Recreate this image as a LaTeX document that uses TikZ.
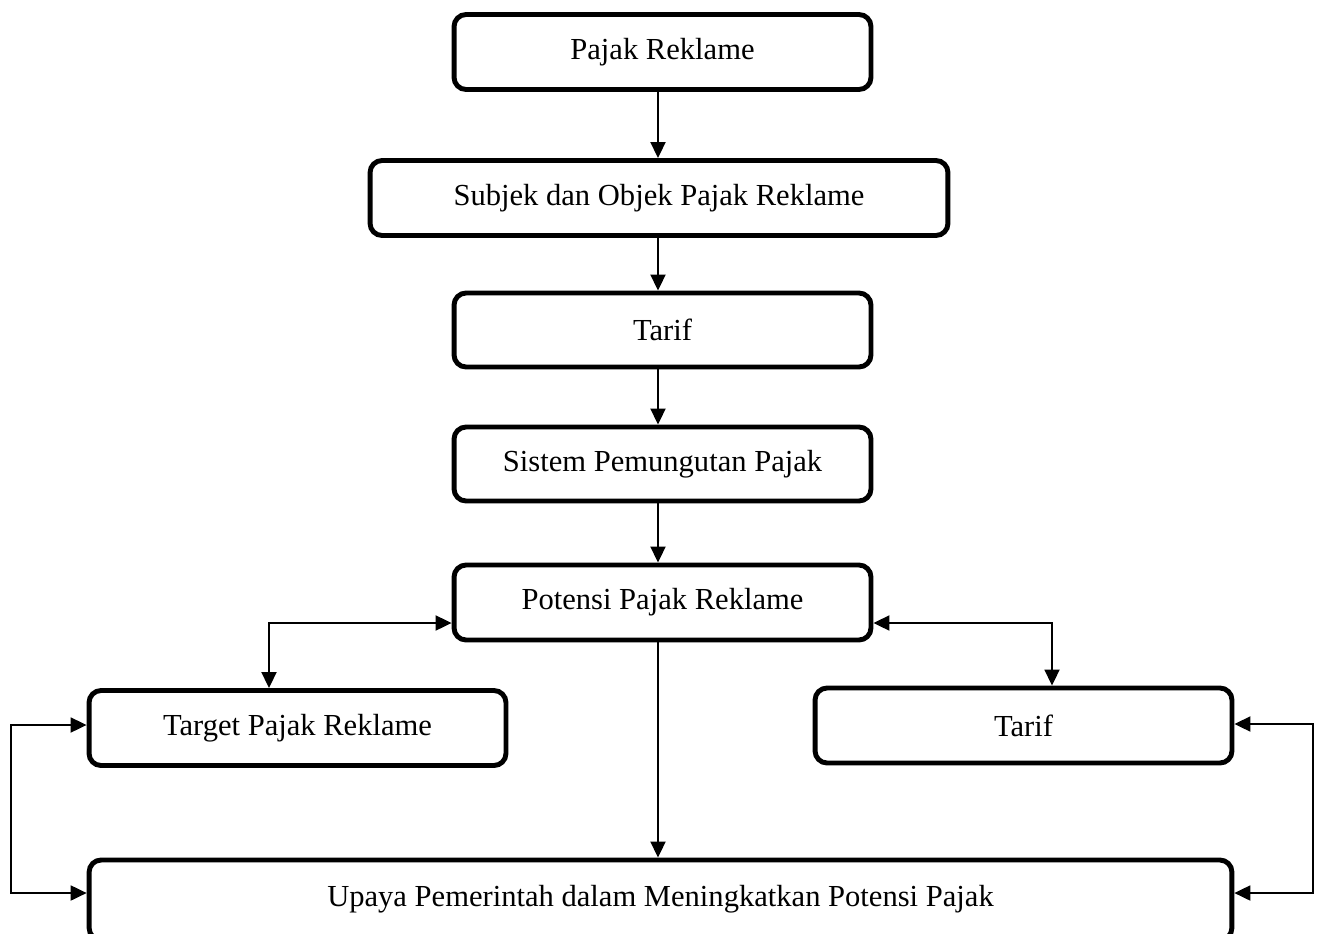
\documentclass[tikz,border=0pt]{standalone}
\usepackage{fontspec}
\setmainfont{Liberation Serif}
\usetikzlibrary{arrows.meta,calc}
\begin{document}
\begin{tikzpicture}[x=0.02cm,y=-0.02cm,
  box/.style={draw, line width=2.8pt, rounded corners=0.24cm, inner sep=0pt,
    font=\fontsize{17.4}{20}\selectfont, minimum width=8.34cm, minimum height=1.5cm},
  arr/.style={line width=1.1pt, -{Triangle[length=0.32cm,width=0.3cm]}},
  darr/.style={line width=1.1pt, {Triangle[length=0.32cm,width=0.3cm]}-{Triangle[length=0.32cm,width=0.3cm]}}]
\useasboundingbox (0,0) rectangle (1321,933);
\node[box] (b1) at (662.5,52) {Pajak Reklame};
\node[box, minimum width=11.56cm] (b2) at (659,198) {Subjek dan Objek Pajak Reklame};
\node[box, minimum height=1.48cm] (b3) at (662.5,330) {Tarif};
\node[box, minimum height=1.48cm] (b4) at (662.5,464) {Sistem Pemungutan Pajak};
\node[box] (b5) at (662.5,602.5) {Potensi Pajak Reklame};
\node[box] (tg) at (297.5,728) {Target Pajak Reklame};
\node[box] (tr) at (1023.5,725.5) {Tarif};
\node[box, minimum width=22.86cm, minimum height=1.6cm] (up) at (660.5,900) {\raisebox{0.16cm}{Upaya Pemerintah dalam Meningkatkan Potensi Pajak}};
\coordinate (c) at (658,0);
\coordinate (lc) at (269,623);
\coordinate (rc) at (1052,623);
\coordinate (fl) at (11,893);
\coordinate (fr) at (1313,893);
\draw[arr] (b1.south -| c) -- (b2.north -| c);
\draw[arr] (b2.south -| c) -- (b3.north -| c);
\draw[arr] (b3.south -| c) -- (b4.north -| c);
\draw[arr] (b4.south -| c) -- (b5.north -| c);
\draw[arr] (b5.south -| c) -- (up.north -| c);
\draw[darr] (lc -| b5.west) -- (lc) -- (lc |- tg.north);
\draw[darr] (rc -| b5.east) -- (rc) -- (rc |- tr.north);
\draw[darr] ([yshift=0.06cm]tg.west) -- ([yshift=0.06cm]tg.west -| fl) -- (fl) -- (fl -| up.west);
\draw[darr] ([yshift=0.03cm]tr.east) -- ([yshift=0.03cm]tr.east -| fr) -- (fr) -- (fr -| up.east);
\end{tikzpicture}
\end{document}
